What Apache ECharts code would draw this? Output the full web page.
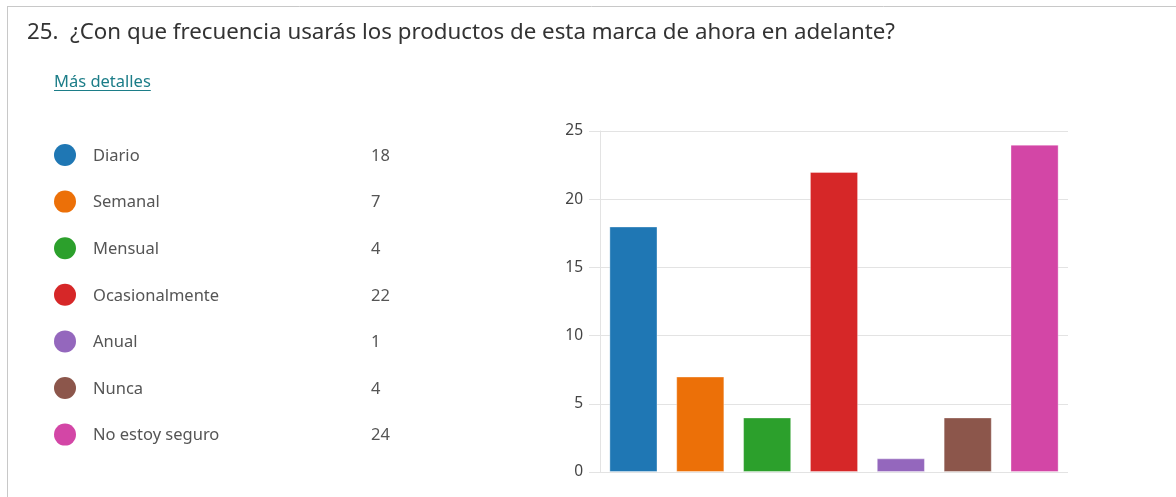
<!DOCTYPE html>
<html>
<head>
<meta charset="utf-8">
<script src="https://cdn.jsdelivr.net/npm/echarts@6/dist/echarts.min.js"></script>
<style>
  html, body { margin: 0; padding: 0; background: #fff; }
  #chart { width: 1176px; height: 497px; }
</style>
</head>
<body>
<div id="chart"></div>
<script>
// Survey question and answer counts
const questionTitle = '25.  ¿Con que frecuencia usarás los productos de esta marca de ahora en adelante?';
const detailsLink = 'Más detalles';
const categories = ['Diario', 'Semanal', 'Mensual', 'Ocasionalmente', 'Anual', 'Nunca', 'No estoy seguro'];
const counts = [18, 7, 4, 22, 1, 4, 24];
const palette = ['#1f77b4', '#ec7008', '#2ca02c', '#d62728', '#9467bd', '#8c564b', '#d346a6'];
const yTicks = [0, 5, 10, 15, 20, 25];

const FONT = '"Noto Sans", "Open Sans", sans-serif';
const TITLE_FONT = '22.3px ' + FONT;
const LINK_FONT = '16.5px ' + FONT;
const LIST_FONT = '16.5px ' + FONT;

// measure text so the link underline spans the word width
const measureCtx = document.createElement('canvas').getContext('2d');
function textWidth(text, font) {
  measureCtx.font = font;
  return measureCtx.measureText(text).width;
}

const chart = echarts.init(document.getElementById('chart'), null, { renderer: 'canvas' });

// Legend-style list on the left: colored dot, answer, count
const legendItems = [];
const rowTop = 155, rowStep = 46.6;
categories.forEach((name, i) => {
  const cy = rowTop + i * rowStep;
  legendItems.push({
    type: 'circle', shape: { cx: 65, cy: cy, r: 11 },
    style: { fill: palette[i] }
  });
  legendItems.push({
    type: 'text', x: 93, y: cy + 1,
    style: { text: name, font: LIST_FONT, fill: '#555', verticalAlign: 'middle' }
  });
  legendItems.push({
    type: 'text', x: 371, y: cy + 1,
    style: { text: String(counts[i]), font: LIST_FONT, fill: '#555', verticalAlign: 'middle' }
  });
});

const linkX = 54;
const linkW = textWidth(detailsLink, LINK_FONT);

chart.setOption({
  animation: false,
  textStyle: { fontFamily: FONT },
  graphic: [
    // card frame
    { type: 'line', shape: { x1: 7, y1: 6.5, x2: 1176, y2: 6.5 }, style: { stroke: '#c8c8c8', lineWidth: 1 } },
    { type: 'line', shape: { x1: 7.5, y1: 6, x2: 7.5, y2: 497 }, style: { stroke: '#c8c8c8', lineWidth: 1 } },
    {
      type: 'text', x: 27, y: 33,
      style: { text: questionTitle, font: TITLE_FONT, fill: '#333', verticalAlign: 'middle' }
    },
    {
      type: 'text', x: linkX, y: 82,
      style: { text: detailsLink, font: LINK_FONT, fill: '#1c7d88', verticalAlign: 'middle' }
    },
    { type: 'line', shape: { x1: linkX, y1: 90.5, x2: linkX + linkW, y2: 90.5 }, style: { stroke: '#1c7d88', lineWidth: 1 } },
    ...legendItems
  ],
  grid: { left: 600, right: 108, top: 131, bottom: 25, containLabel: false },
  xAxis: {
    type: 'category',
    data: categories,
    axisLine: { show: false },
    axisTick: { show: false },
    axisLabel: { show: false }
  },
  yAxis: {
    type: 'value',
    min: yTicks[0],
    max: yTicks[yTicks.length - 1],
    interval: yTicks[1] - yTicks[0],
    axisLine: { show: true, lineStyle: { color: '#e3e3e3', width: 1 } },
    axisTick: { show: true, length: 11, lineStyle: { color: '#e3e3e3', width: 1 } },
    axisLabel: { margin: 17, fontSize: 15.5, color: '#444', fontFamily: FONT },
    splitLine: { show: true, lineStyle: { color: '#e3e3e3', width: 1 } }
  },
  series: [{
    type: 'bar',
    data: counts.map((v, i) => ({
      value: v,
      itemStyle: { color: palette[i] }
    })),
    barCategoryGap: '28%',
    itemStyle: { borderColor: 'rgba(255,255,255,0.35)', borderWidth: 1 }
  }]
});
</script>
</body>
</html>
